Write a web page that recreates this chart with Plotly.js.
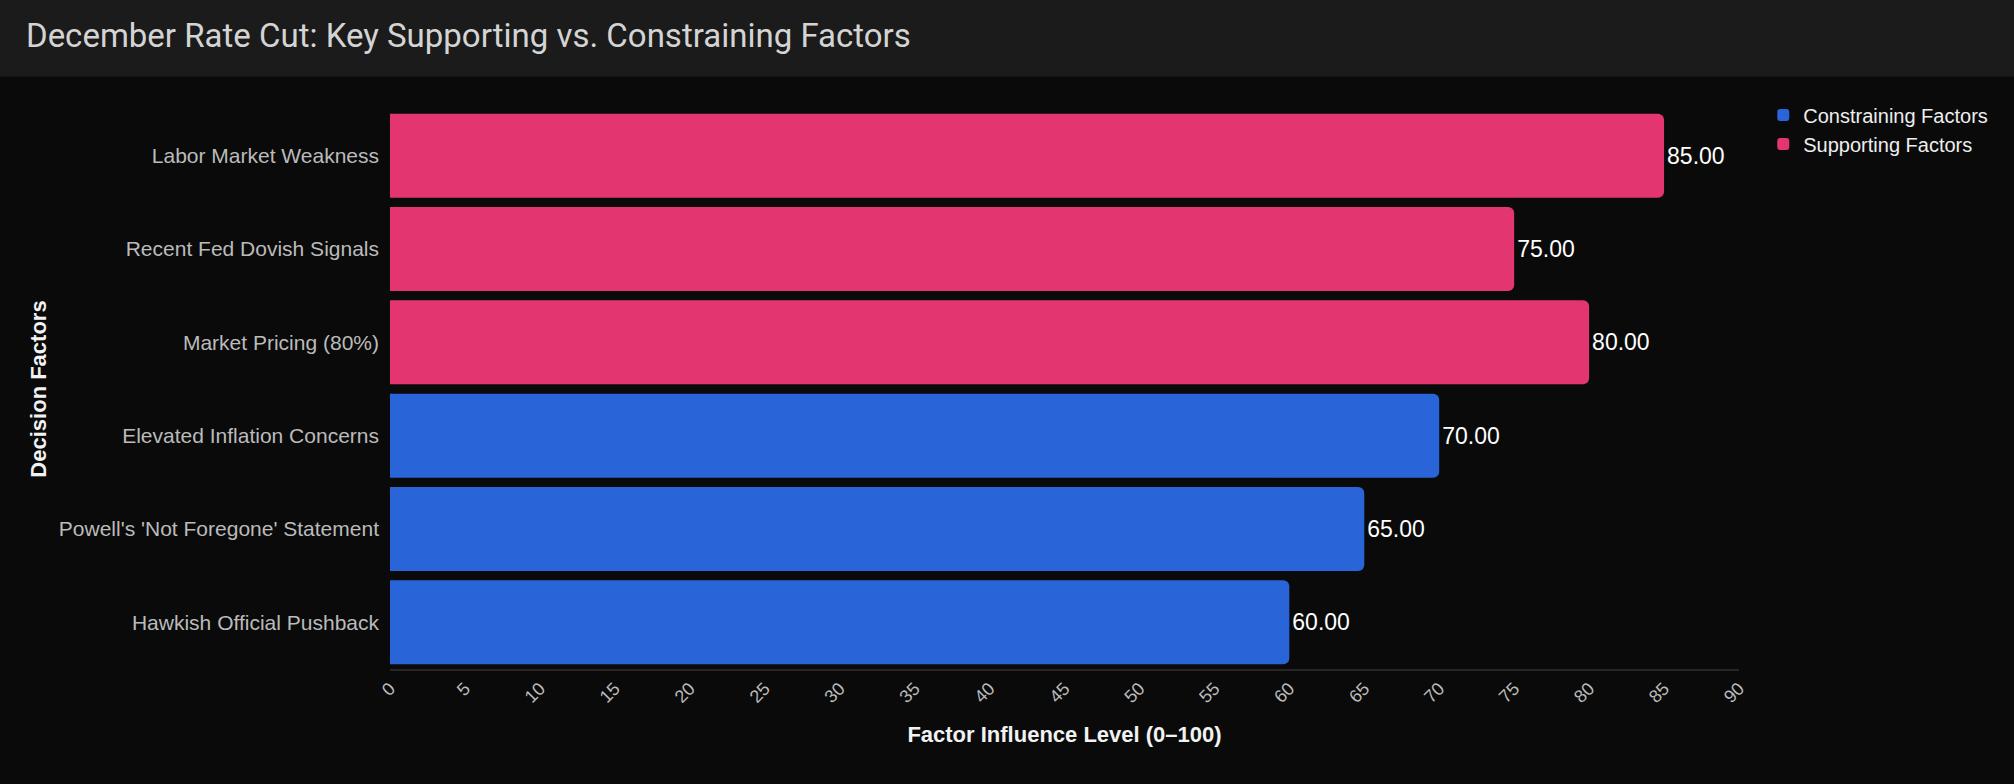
<!DOCTYPE html>
<html>
<head>
<meta charset="utf-8">
<script src="https://cdn.plot.ly/plotly-3.0.1.min.js"></script>
<style>
html,body{margin:0;padding:0;background:#0a0a0a;}
#chart{width:2014px;height:784px;}
</style>
</head>
<body>
<div id="chart"></div>
<script>
// Category order, bottom to top
const categoryOrder = [
  "Hawkish Official Pushback",
  "Powell's 'Not Foregone' Statement",
  "Elevated Inflation Concerns",
  "Market Pricing (80%)",
  "Recent Fed Dovish Signals",
  "Labor Market Weakness"
];

const constrainingFactors = [
  "Hawkish Official Pushback",
  "Powell's 'Not Foregone' Statement",
  "Elevated Inflation Concerns"
];
const constrainingValues = [60, 65, 70];

const supportingFactors = [
  "Market Pricing (80%)",
  "Recent Fed Dovish Signals",
  "Labor Market Weakness"
];
const supportingValues = [80, 75, 85];

const xTickValues = [0,5,10,15,20,25,30,35,40,45,50,55,60,65,70,75,80,85,90];

const FONT = "Liberation Sans, Arial, sans-serif";

const traces = [
  {
    type: "bar",
    orientation: "h",
    name: "Constraining Factors",
    y: constrainingFactors,
    x: constrainingValues,
    marker: {color: "#2965d8", line: {width: 0}},
    texttemplate: "%{x:.2f}",
    textposition: "outside",
    textfont: {color: "#ffffff", size: 23, family: FONT},
    cliponaxis: false,
    hoverinfo: "x+y"
  },
  {
    type: "bar",
    orientation: "h",
    name: "Supporting Factors",
    y: supportingFactors,
    x: supportingValues,
    marker: {color: "#e3356f", line: {width: 0}},
    texttemplate: "%{x:.2f}",
    textposition: "outside",
    textfont: {color: "#ffffff", size: 23, family: FONT},
    cliponaxis: false,
    hoverinfo: "x+y"
  }
];

const layout = {
  width: 2014,
  height: 784,
  margin: {l: 390, r: 275, t: 109, b: 115, pad: 0},
  paper_bgcolor: "#0a0a0a",
  plot_bgcolor: "#0a0a0a",
  font: {family: FONT, color: "#bbbbbb"},
  barmode: "relative",
  bargap: 0.1,
  barcornerradius: 6,
  title: {
    text: "December Rate Cut: Key Supporting vs. Constraining Factors",
    font: {family: "Roboto, " + FONT, size: 33, color: "#d4d4d4"},
    xref: "container", yref: "container",
    x: 0.0129, xanchor: "left",
    y: 0.955, yanchor: "middle"
  },
  shapes: [{
    type: "rect", layer: "below",
    xref: "paper", yref: "paper",
    x0: -0.5, x1: 1.5,
    y0: 1.0579, y1: 1.25,
    fillcolor: "#1b1b1b", line: {width: 0}
  }],
  xaxis: {
    range: [0, 90],
    tickvals: xTickValues,
    tickangle: -45,
    tickfont: {size: 18, color: "#bbbbbb", family: FONT},
    showgrid: false,
    zeroline: false,
    showline: true,
    linecolor: "#262626",
    linewidth: 2,
    ticks: "",
    title: {
      text: "Factor Influence Level (0–100)",
      font: {size: 22, color: "#f2f2f2", family: FONT, weight: "bold"},
      standoff: 21
    }
  },
  yaxis: {
    type: "category",
    categoryorder: "array",
    categoryarray: categoryOrder,
    tickfont: {size: 21, color: "#bbbbbb", family: FONT},
    showgrid: false,
    zeroline: false,
    showline: false,
    ticks: "",
    ticklabelstandoff: 10,
    title: {
      text: "Decision Factors",
      font: {size: 22, color: "#f2f2f2", family: FONT, weight: "bold"},
      standoff: 6
    }
  },
  legend: {
    x: 1.018, xanchor: "left",
    y: 1.024, yanchor: "top",
    font: {size: 20, color: "#eeeeee", family: FONT},
    bgcolor: "rgba(0,0,0,0)",
    traceorder: "normal",
    tracegroupgap: 0
  },
  showlegend: true
};

Plotly.newPlot("chart", traces, layout, {displayModeBar: false, staticPlot: true});
</script>
</body>
</html>
